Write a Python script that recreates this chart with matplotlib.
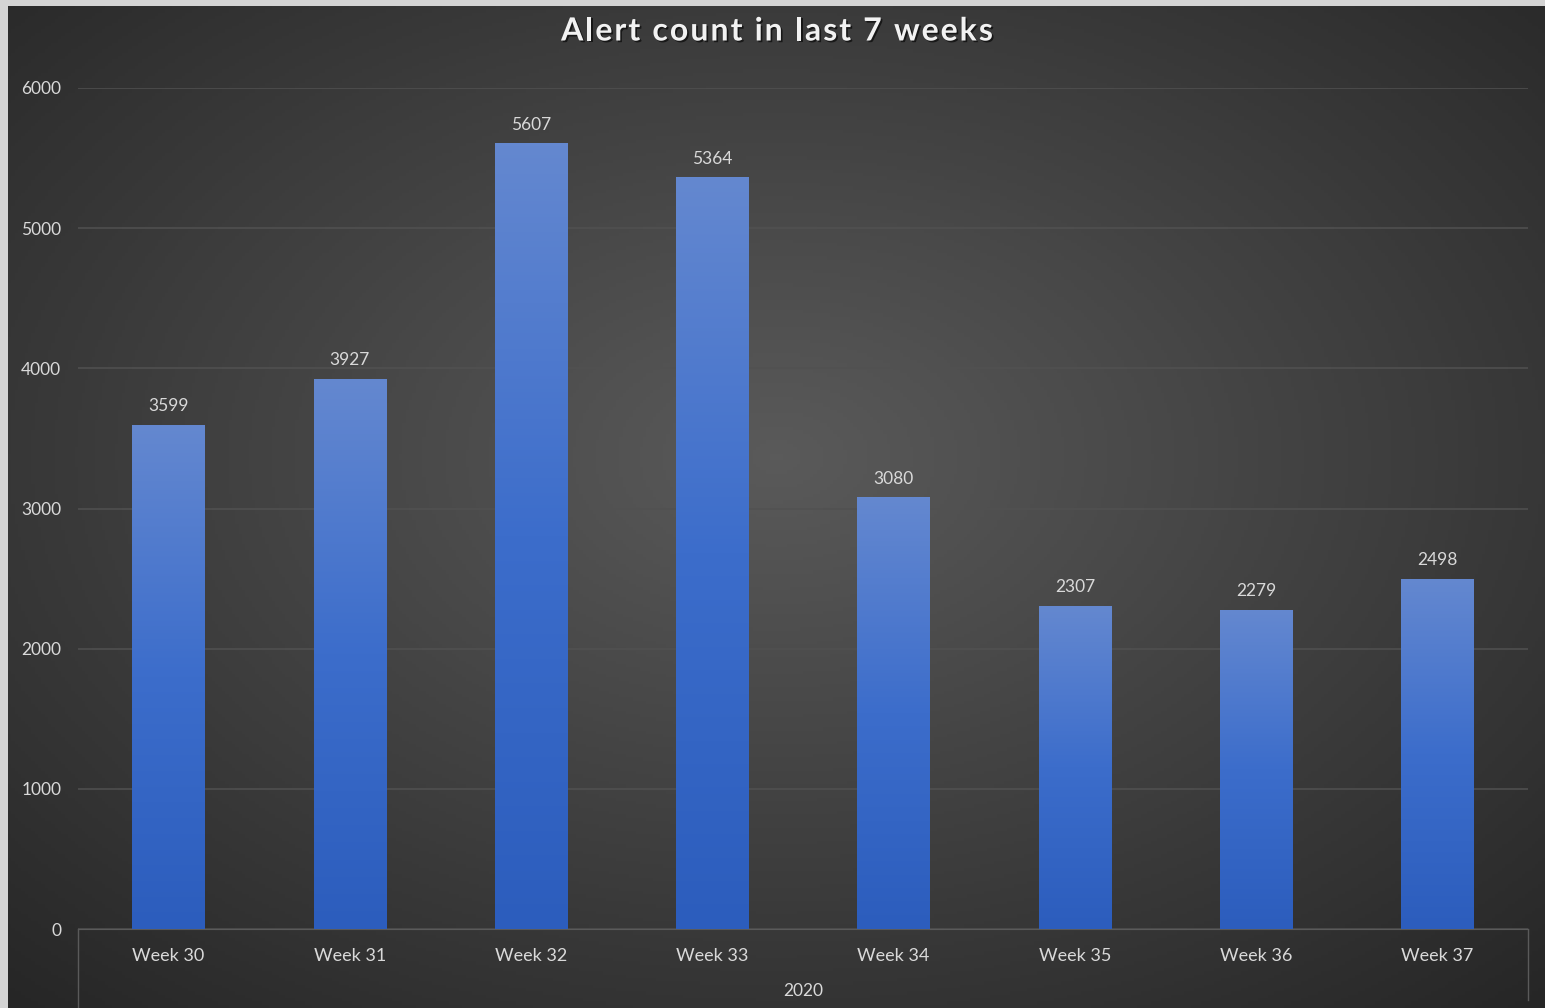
import numpy as np
import matplotlib.pyplot as plt
import matplotlib.patheffects as pe
from matplotlib.colors import LinearSegmentedColormap

# Data
weeks = ["Week 30", "Week 31", "Week 32", "Week 33", "Week 34", "Week 35", "Week 36", "Week 37"]
alerts = [3599, 3927, 5607, 5364, 3080, 2307, 2279, 2498]
year_label = "2020"
y_ticks = [0, 1000, 2000, 3000, 4000, 5000, 6000]
title = "Alert count in last 7 weeks"

plt.rcParams['font.family'] = ['Lato', 'DejaVu Sans']

W, H = 1545, 1008
fig = plt.figure(figsize=(W / 100, H / 100), dpi=100, facecolor="#d4d4d4")

# Dark radial background
bg = fig.add_axes([8 / W, 0, 1 - 8 / W, 1 - 6 / H])
bg.set_axis_off()
yy, xx = np.mgrid[0:1:300j, 0:1:460j]
r = np.sqrt(((xx - 0.5) / 0.75) ** 2 + ((yy - 0.45) / 0.75) ** 2)
r = np.clip(r / r.max(), 0, 1)
bg_cmap = LinearSegmentedColormap.from_list("bg", ["#5a5a5a", "#404040", "#262626"])
bg.imshow(r, cmap=bg_cmap, aspect="auto", extent=[0, 1, 0, 1], origin="upper")

ax = fig.add_axes([78 / W, 1 - 929 / H, 1450 / W, 841 / H])
ax.set_facecolor("none")

x = np.arange(len(weeks))
bars = ax.bar(x, alerts, width=0.4, color="#3a6ac8", zorder=2)

bar_cmap = LinearSegmentedColormap.from_list("bar", ["#2c5dbd", "#3c6dcb", "#6488d0"])
grad = np.linspace(0, 1, 256).reshape(-1, 1)
for b in bars:
    x0, y0 = b.get_x(), b.get_y()
    im = ax.imshow(grad, cmap=bar_cmap, aspect="auto", origin="lower",
                   extent=[x0, x0 + b.get_width(), y0, y0 + b.get_height()], zorder=3)
    im.set_clip_path(b)

for xi, v in zip(x, alerts):
    ax.text(xi, v + 75, str(v), ha="center", va="bottom", color="#d9d9d9", fontsize=12.5)

ax.set_xlim(-0.5, len(weeks) - 0.5)
ax.set_ylim(0, 6000)
ax.set_yticks(y_ticks)
ax.set_xticks(x)
ax.set_xticklabels(weeks)
ax.tick_params(axis="y", length=0, pad=12, labelsize=12.5, colors="#d9d9d9")
ax.tick_params(axis="x", length=0, pad=14, labelsize=13, colors="#d9d9d9")
ax.grid(axis="y", color="#515151", linewidth=1.1, zorder=0)
ax.set_axisbelow(True)
for s in ["top", "right", "left"]:
    ax.spines[s].set_visible(False)
ax.spines["bottom"].set_color("#5a5a5a")

# Multi-level category axis lines and group label
ax.plot([0, 0], [0, -0.095], transform=ax.transAxes, color="#5a5a5a", lw=1, clip_on=False)
ax.plot([1, 1], [0, -0.085], transform=ax.transAxes, color="#5a5a5a", lw=1, clip_on=False)
ax.text(0.5, -0.074, year_label, transform=ax.transAxes, ha="center", va="center",
        color="#d9d9d9", fontsize=12.5)

# Title with letter spacing (drawn char by char)
renderer = fig.canvas.get_renderer()
spacing = 2.0  # px between letters
tkw = dict(color="#f2f2f2", fontsize=23, fontweight="bold", va="center", ha="left",
           path_effects=[pe.withSimplePatchShadow(offset=(1.2, -1.2), shadow_rgbFace="black", alpha=0.6)])
widths = []
for ch in title:
    t = fig.text(0, 0, ch if ch != " " else "n", **tkw)
    w = t.get_window_extent(renderer).width
    if ch == " ":
        w *= 0.45
    widths.append(w)
    t.remove()
total = sum(widths) + spacing * (len(title) - 1)
xpos = 777 - total / 2
for ch, w in zip(title, widths):
    if ch != " ":
        fig.text(xpos / W, 1 - 31 / H, ch, **tkw)
    xpos += w + spacing

fig.savefig("out.png", dpi=100, facecolor=fig.get_facecolor())
